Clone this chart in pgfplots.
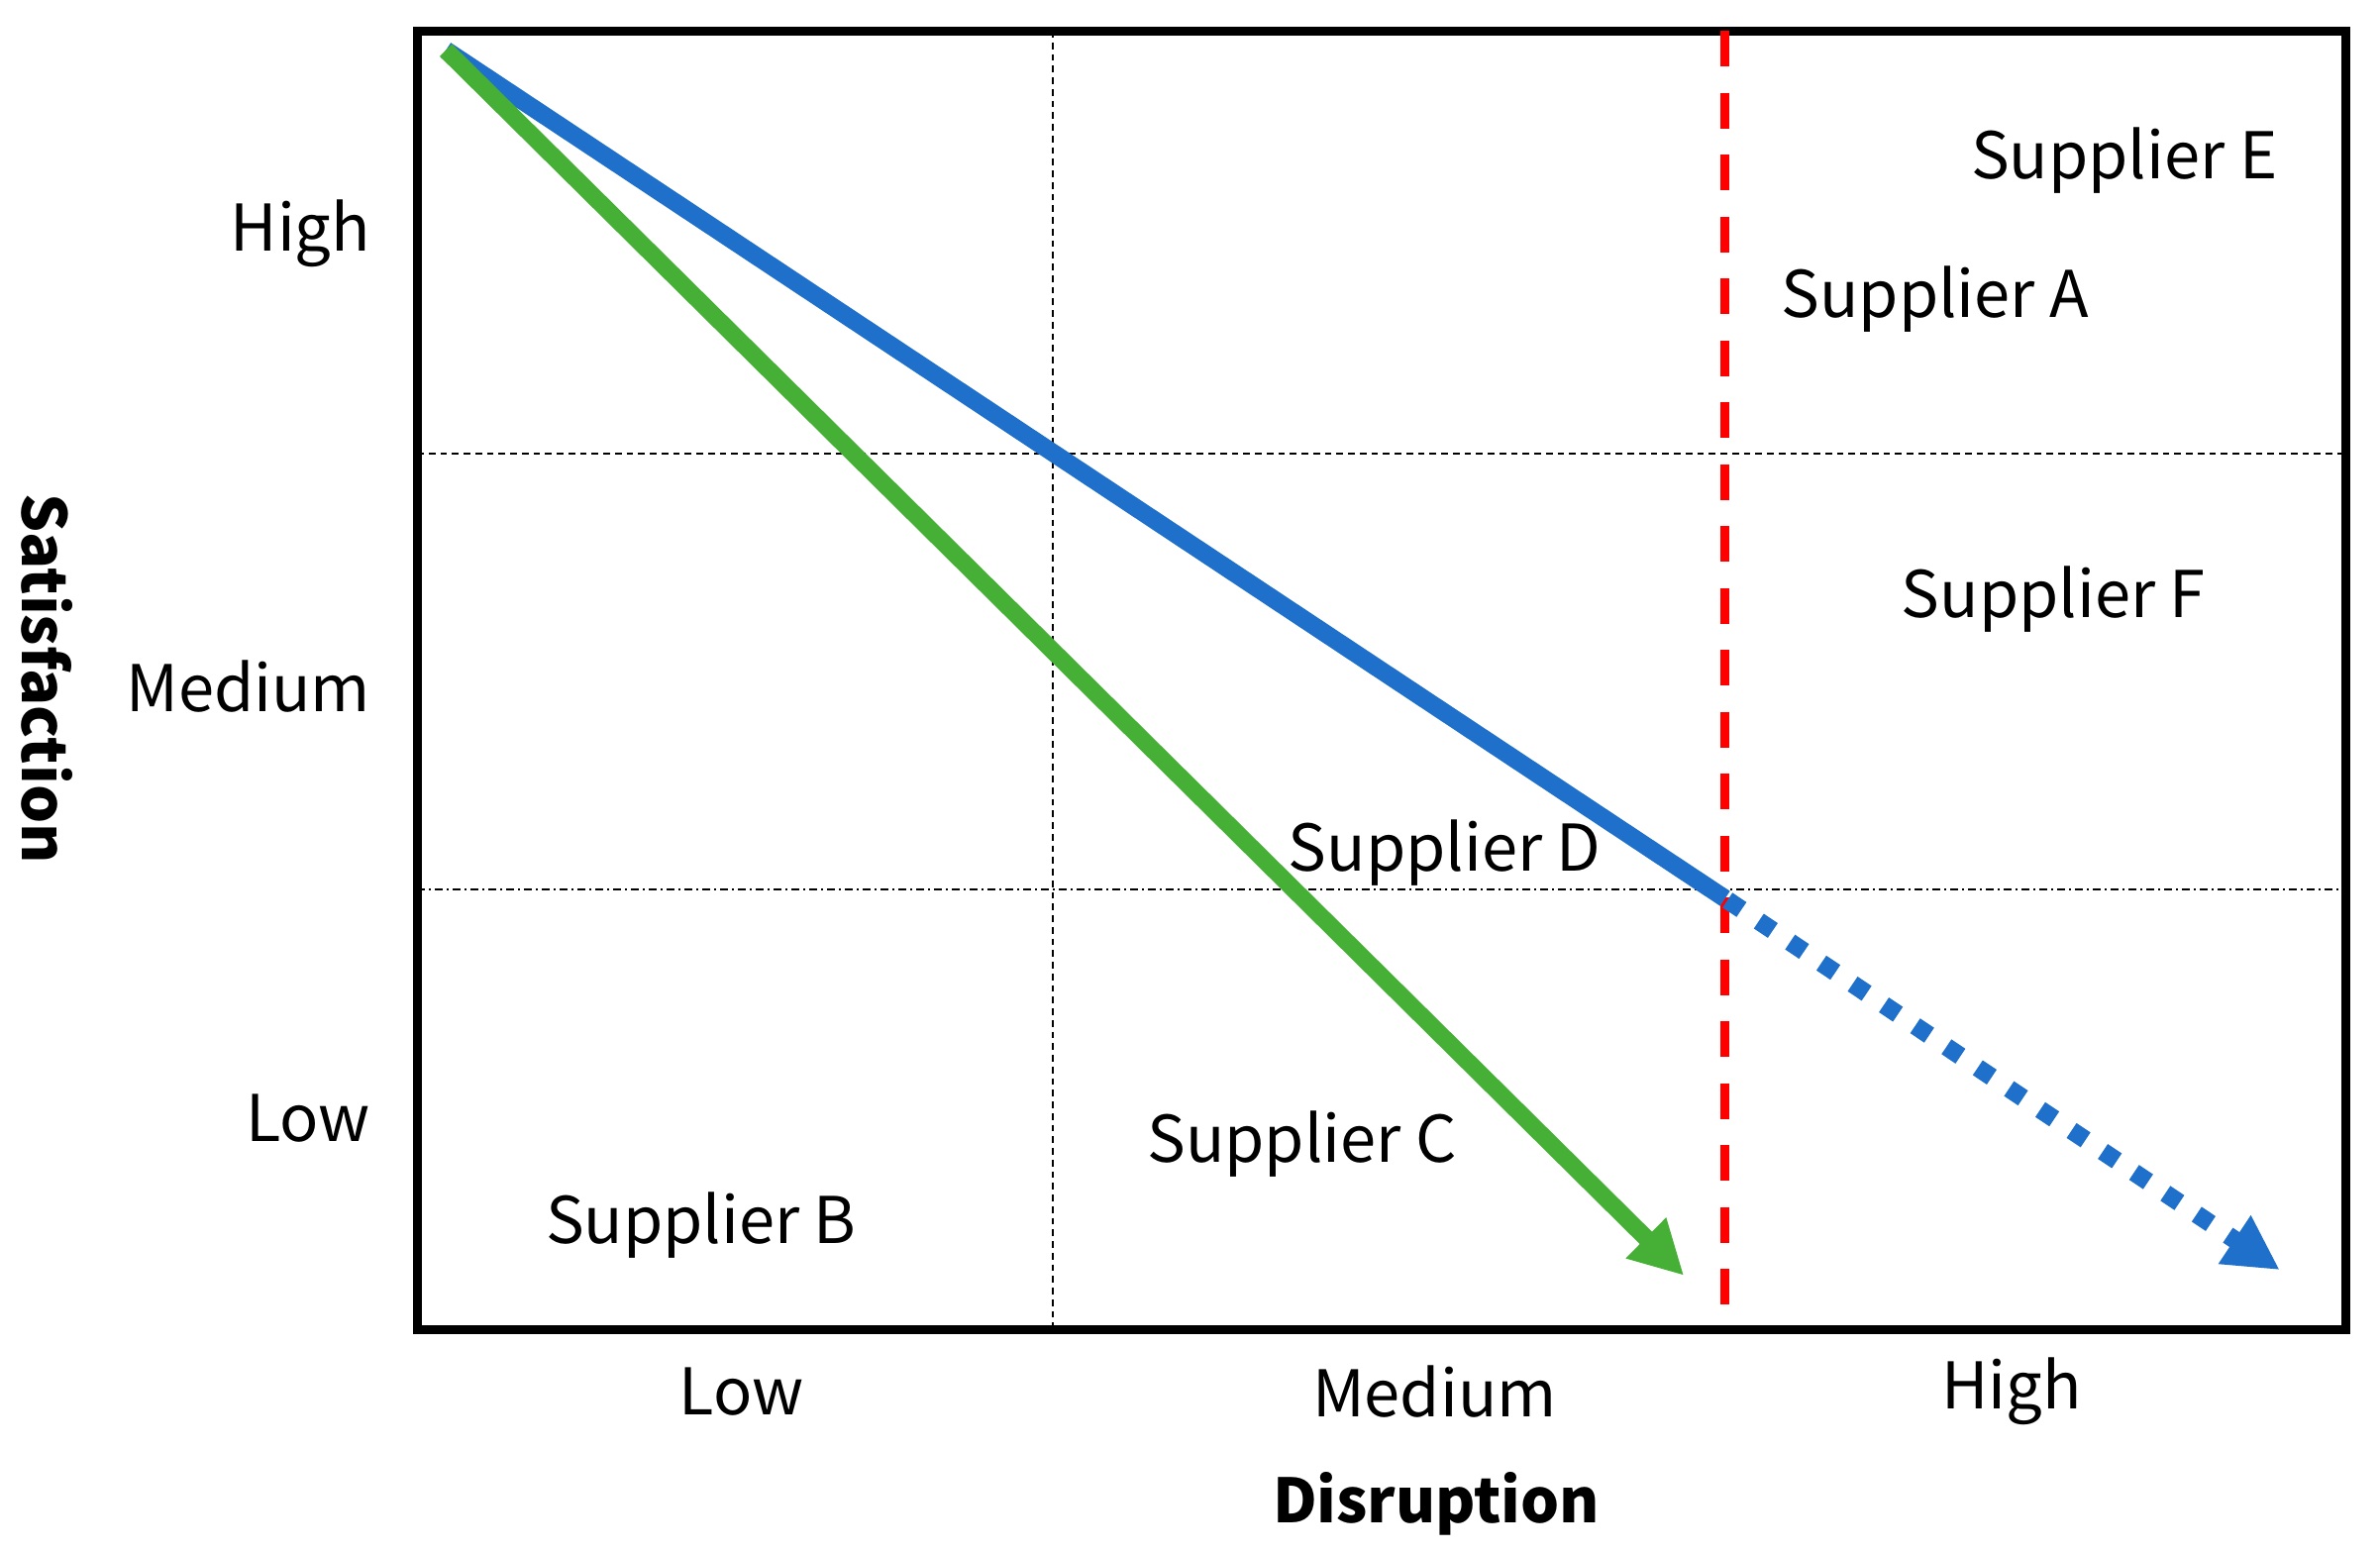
\documentclass[border=0pt]{standalone}
\usepackage{fontspec}
\setmainfont{Noto Sans CJK SC}
\usepackage{pgfplots}
\pgfplotsset{compat=1.18}
\usetikzlibrary{arrows.meta}
\definecolor{myblue}{HTML}{1F70CB}
\definecolor{mygreen}{HTML}{45B035}
\begin{document}
\fontsize{13}{16}\selectfont
\begin{tikzpicture}
\useasboundingbox (-84.2pt,-45.4pt) rectangle (396.4pt,268.4pt);
\begin{axis}[
  at={(0pt,0pt)}, anchor=south west,
  scale only axis, width=389.4pt, height=262.2pt,
  xmin=0, xmax=3, ymin=0, ymax=3,
  axis line style={line width=1.8pt},
  xtick={0.505,1.583,2.481}, xticklabels={Low,Medium,High},
  ytick={0.494,1.492,2.538}, yticklabels={Low,Medium,High},
  major tick length=0pt, tick style={draw=none},
  xticklabel style={anchor=center, yshift=-12.6pt},
  yticklabel style={anchor=east, inner sep=0pt, xshift=-9.2pt, yshift=-0.6pt},
  xlabel={\fontsize{12.3}{15}\selectfont\bfseries Disruption},
  ylabel={\fontsize{12.3}{15}\selectfont\bfseries Satisfaction},
  xlabel style={at={(axis description cs:0.5285,-0.1345)}, anchor=center},
  ylabel style={at={(axis description cs:-0.1916,0.501)}, anchor=center, rotate=180},
]
% quadrant guides
\addplot[black, line width=0.5pt, dash pattern=on 1.35pt off 1pt] coordinates {(0.989,3) (0.989,0)};
\addplot[black, line width=0.5pt, dash pattern=on 1.35pt off 1pt] coordinates {(0,2.023) (3,2.023)};
\addplot[black, line width=0.5pt, dash pattern=on 1.6pt off 0.8pt on 0.4pt off 0.8pt] coordinates {(0,1.016) (3,1.016)};
% red threshold
\addplot[red, line width=1.9pt, dash pattern=on 7.2pt off 5.3pt] coordinates {(2.035,3) (2.035,0)};
% blue path
\addplot[myblue, line width=3.6pt] coordinates {(0.045,2.955) (2.035,0.995)};
\addplot[myblue, line width=3.6pt, dash pattern=on 0pt off 0.6pt on 3.4pt off 3.6pt,
  -{Triangle[length=11pt,width=11pt]}] coordinates {(2.035,0.995) (2.898,0.137)};
% green path
\addplot[mygreen, line width=3.5pt, -{Triangle[length=10.8pt,width=10.8pt]}] coordinates {(0.045,2.955) (1.971,0.124)};
% supplier labels
\node at (axis cs:2.656,2.700) {Supplier E};
\node at (axis cs:2.362,2.380) {Supplier A};
\node at (axis cs:2.546,1.686) {Supplier F};
\node at (axis cs:1.599,1.101) {Supplier D};
\node at (axis cs:1.377,0.428) {Supplier C};
\node at (axis cs:0.442,0.240) {Supplier B};
\end{axis}
\end{tikzpicture}
\end{document}
